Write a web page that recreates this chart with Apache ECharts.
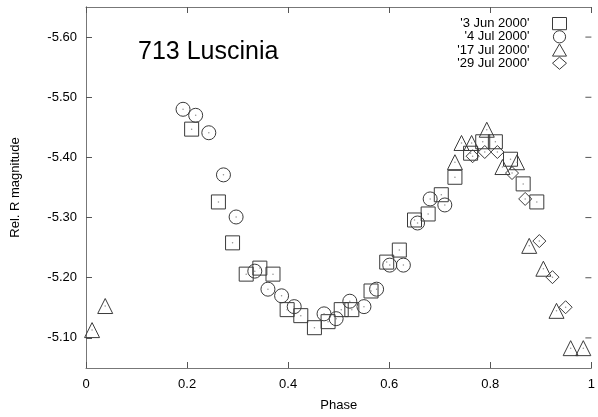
<!DOCTYPE html>
<html><head><meta charset="utf-8">
<script src="https://cdn.jsdelivr.net/npm/echarts@6/dist/echarts.min.js"></script>
<style>html,body{margin:0;padding:0;background:#fff}#c{width:598px;height:417px}</style>
</head><body><div id="c"></div>
<script>
const jun3 = [[0.209,-5.447],[0.262,-5.326],[0.290,-5.258],[0.317,-5.206],[0.344,-5.216],[0.370,-5.206],[0.398,-5.147],[0.425,-5.137],[0.452,-5.117],[0.479,-5.127],[0.505,-5.147],[0.526,-5.147],[0.564,-5.178],[0.595,-5.226],[0.620,-5.246],[0.650,-5.296],[0.677,-5.306],[0.703,-5.338],[0.730,-5.367],[0.761,-5.407],[0.785,-5.426],[0.810,-5.426],[0.840,-5.397],[0.865,-5.356],[0.892,-5.326]];
const jul4 = [[0.192,-5.480],[0.217,-5.470],[0.243,-5.441],[0.272,-5.371],[0.297,-5.301],[0.334,-5.211],[0.360,-5.181],[0.387,-5.170],[0.412,-5.152],[0.471,-5.140],[0.495,-5.132],[0.522,-5.161],[0.550,-5.152],[0.575,-5.181],[0.601,-5.221],[0.628,-5.221],[0.656,-5.291],[0.681,-5.331],[0.710,-5.321]];
const jul17 = [[0.012,-5.113],[0.038,-5.153],[0.730,-5.392],[0.743,-5.424],[0.763,-5.424],[0.793,-5.446],[0.824,-5.384],[0.853,-5.392],[0.877,-5.253],[0.905,-5.215],[0.931,-5.145],[0.959,-5.083],[0.984,-5.083]];
const jul29 = [[0.765,-5.402],[0.789,-5.409],[0.814,-5.409],[0.843,-5.374],[0.869,-5.331],[0.897,-5.261],[0.923,-5.201],[0.949,-5.151]];
const seriesNames = ["'3 Jun 2000'","'4 Jul 2000'","'17 Jul 2000'","'29 Jul 2000'"];
const yTicks = [-5.6,-5.5,-5.4,-5.3,-5.2,-5.1];
const titleText = '713 Luscinia';

const font = 'Liberation Sans, Arial, sans-serif';
const stroke = '#3a3a3a';
const shapes = ['rect','circle','triangle','diamond'];
const sizes = [14,14,15,13];
const datasets = [jun3, jul4, jul17, jul29];
const series = [];
datasets.forEach((d,i)=>{
  series.push({name: seriesNames[i], type:'scatter', data:d, symbol:shapes[i], symbolSize:sizes[i],
    itemStyle:{color:'rgba(255,255,255,0)', borderColor:stroke, borderWidth:1, opacity:1}, emphasis:{disabled:true}, z:2});
  series.push({name: 'dot'+i, type:'scatter', data:d, symbol:'circle', symbolSize:1.5,
    itemStyle:{color:'#777'}, emphasis:{disabled:true}, z:3, silent:true});
});
// inward ticks on the right frame edge, placed through the axis scales
series.push({
  name:'rightTicks', type:'custom', silent:true, clip:false, z:4,
  data: yTicks.map(v=>[1, v]),
  renderItem: function(params, api){
    const p = api.coord([api.value(0), api.value(1)]);
    return {type:'line', shape:{x1:p[0], y1:p[1], x2:p[0]-6, y2:p[1]}, style:{stroke:'#555', lineWidth:1}};
  }
});
const axisLine = {show:true, lineStyle:{color:'#777', width:1}};
const tickIn = {show:true, inside:true, length:6, lineStyle:{color:'#555'}};
const yTickL = {show:true, inside:true, length:6, customValues:yTicks, lineStyle:{color:'#555'}};
const chart = echarts.init(document.getElementById('c'), null, {renderer:'canvas'});
chart.setOption({
  animation:false,
  backgroundColor:'#fff',
  title:{text:titleText, left:138, top:40, padding:0, textStyle:{fontFamily:font, fontWeight:'normal', fontSize:25, color:'#000'}},
  legend:{
    data: seriesNames, orient:'vertical', right:31, top:17, align:'right', padding:0,
    itemWidth:14, itemHeight:12.2, itemGap:0,
    textStyle:{fontFamily:font, fontSize:13, lineHeight:12.2, color:'#000', padding:[0,18,0,0]},
    itemStyle:{color:'rgba(255,255,255,0)', borderColor:stroke, borderWidth:1}
  },
  grid:{left:86, right:1, top:7, bottom:49},
  xAxis:[
    {type:'value', min:0, max:1, interval:0.2, position:'bottom',
     name:'Phase', nameLocation:'middle', nameGap:31, nameTextStyle:{fontFamily:font, fontSize:13, color:'#000'},
     axisLine:axisLine, axisTick:tickIn, splitLine:{show:false},
     axisLabel:{fontFamily:font, fontSize:13, color:'#000', margin:10, formatter:v=>String(+(+v).toFixed(1))}},
    {type:'value', min:0, max:1, interval:0.2, position:'top',
     axisLine:axisLine, axisTick:tickIn, splitLine:{show:false}, axisLabel:{show:false}}
  ],
  yAxis:[
    {type:'value', min:-5.65, max:-5.05, inverse:true, position:'left',
     name:'Rel. R magnitude', nameLocation:'middle', nameGap:64, nameRotate:90,
     nameTextStyle:{fontFamily:font, fontSize:13, color:'#000'},
     axisLine:axisLine, axisTick:yTickL, splitLine:{show:false},
     axisLabel:{customValues:yTicks, fontFamily:font, fontSize:13, color:'#000', margin:9, formatter:v=>(+v).toFixed(2)}},
    {type:'value', min:-5.65, max:-5.05, inverse:true, position:'right',
     axisLine:axisLine, axisTick:{show:false}, splitLine:{show:false}, axisLabel:{show:false}}
  ],
  series: series
});
</script></body></html>
